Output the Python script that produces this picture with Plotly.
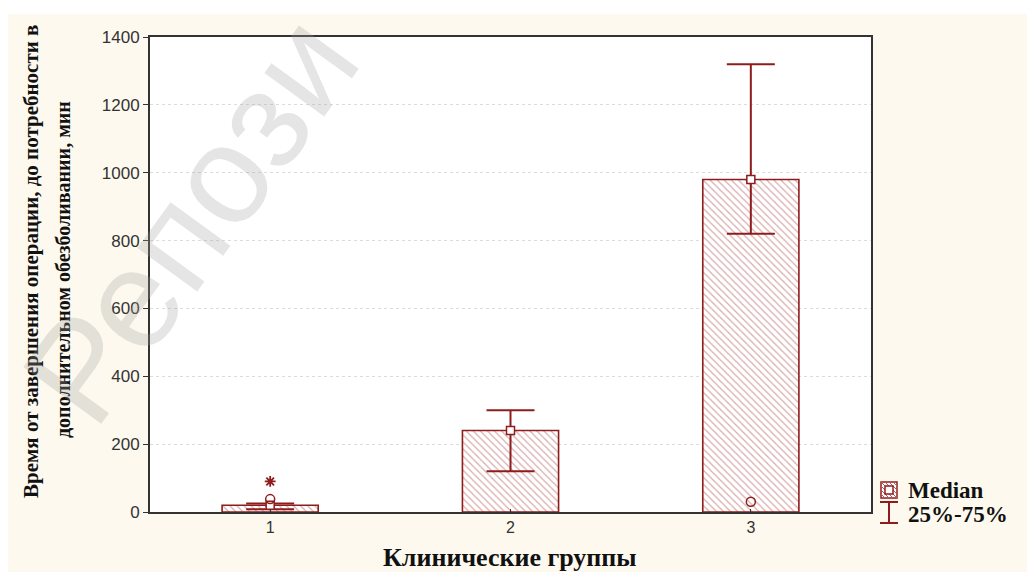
import plotly.graph_objects as go

# ---- data ----
groups = [1, 2, 3]
medians = [20, 240, 980]
q1 = [8, 120, 820]
q3 = [25, 300, 1320]
outlier_circle_x = [1, 3]
outlier_circle_y = [38, 30]
outlier_star_x = [1]
outlier_star_y = [90]
y_ticks = [0, 200, 400, 600, 800, 1000, 1200, 1400]

RED = "#8e1c1c"

# page has an 8px body margin: work in screen pixels, convert to figure
OFF = 8
W, H = 1035 - OFF, 572 - OFF
SL, SR, ST, SB = 150, 871, 37, 512  # plot area in screen pixels


def px(x):
    return (x - SL) / (SR - SL)


def py(y):
    return (SB - y) / (SB - ST)


fig = go.Figure()

fig.add_trace(go.Bar(
    x=groups, y=medians, width=0.4,
    marker=dict(color="white", line=dict(color=RED, width=1.6),
                pattern=dict(shape="\\", fgcolor="#b45a5a", bgcolor="white",
                             size=5, solidity=0.25)),
    showlegend=False, hoverinfo="skip"))

fig.add_trace(go.Scatter(
    x=groups, y=medians, mode="markers",
    marker=dict(symbol="square", size=8, color="white", line=dict(color=RED, width=1.5)),
    error_y=dict(type="data", symmetric=False,
                 array=[a - m for a, m in zip(q3, medians)],
                 arrayminus=[m - b for m, b in zip(medians, q1)],
                 color=RED, thickness=2, width=24),
    showlegend=False))

fig.add_trace(go.Scatter(
    x=outlier_circle_x, y=outlier_circle_y, mode="markers",
    marker=dict(symbol="circle-open", size=9, color=RED, line=dict(width=1.5)),
    showlegend=False))

fig.add_trace(go.Scatter(
    x=outlier_star_x, y=outlier_star_y, mode="markers",
    marker=dict(symbol="asterisk-open", size=9, color=RED, line=dict(width=1.8, color=RED)),
    showlegend=False))

shapes = []
# cream background
shapes.append(dict(type="rect", xref="paper", yref="paper", layer="below",
                   x0=px(8), x1=px(1040), y0=py(580), y1=py(14),
                   fillcolor="#fdf9ee", line=dict(width=0)))
shapes.append(dict(type="rect", xref="paper", yref="paper", layer="below",
                   x0=0, x1=1, y0=0, y1=1, fillcolor="white", line=dict(width=0)))

# legend icons
lx0, lx1, ly0, ly1 = 881, 897, 482, 498
shapes.append(dict(type="rect", xref="paper", yref="paper",
                   x0=px(lx0), x1=px(lx1), y0=py(ly1), y1=py(ly0),
                   fillcolor="white", line=dict(color=RED, width=1.5)))
for k in range(-12, 16, 4):
    xa, ya = lx0 + k, ly0
    xb, yb = lx0 + k + 16, ly1
    if xa < lx0:
        ya = ly0 + (lx0 - xa); xa = lx0
    if xb > lx1:
        yb = ly1 - (xb - lx1); xb = lx1
    if ya < yb:
        shapes.append(dict(type="line", xref="paper", yref="paper",
                           x0=px(xa), x1=px(xb), y0=py(ya), y1=py(yb),
                           line=dict(color="#b45a5a", width=1)))
shapes.append(dict(type="rect", xref="paper", yref="paper",
                   x0=px(885), x1=px(893), y0=py(494), y1=py(486),
                   fillcolor="white", line=dict(color=RED, width=1.5)))
# error bar icon
shapes.append(dict(type="line", xref="paper", yref="paper",
                   x0=px(889), x1=px(889), y0=py(502), y1=py(523),
                   line=dict(color=RED, width=2)))
for yy in (502, 523):
    shapes.append(dict(type="line", xref="paper", yref="paper",
                       x0=px(880), x1=px(898), y0=py(yy), y1=py(yy),
                       line=dict(color=RED, width=2)))

SERIF = "Liberation Serif"
annotations = [
    dict(text="<b>Время от завершения операции, до потребности в</b>", textangle=-90,
         xref="paper", yref="paper", x=px(31), y=py(262), showarrow=False,
         font=dict(family=SERIF, size=21, color="#111"),
         xanchor="center", yanchor="middle"),
    dict(text="<b>дополнительном обезболивании, мин</b>", textangle=-90,
         xref="paper", yref="paper", x=px(63), y=py(270), showarrow=False,
         font=dict(family=SERIF, size=20, color="#111"),
         xanchor="center", yanchor="middle"),
    dict(text="<b>Клинические группы</b>", xref="paper", yref="paper",
         x=px(510), y=py(557), showarrow=False,
         font=dict(family=SERIF, size=26, color="#111"),
         xanchor="center", yanchor="middle"),
    dict(text="<b>Median</b>", xref="paper", yref="paper",
         x=px(906), y=py(490), showarrow=False,
         font=dict(family=SERIF, size=23, color="#111"),
         xanchor="left", yanchor="middle"),
    dict(text="<b>25%-75%</b>", xref="paper", yref="paper",
         x=px(906), y=py(514), showarrow=False,
         font=dict(family=SERIF, size=23, color="#111"),
         xanchor="left", yanchor="middle"),
    dict(text="Репози", textangle=-54, xref="paper", yref="paper",
         x=px(190), y=py(218), showarrow=False,
         font=dict(family="Liberation Sans", size=140, color="rgba(160,160,160,0.28)"),
         xanchor="center", yanchor="middle"),
]

fig.update_layout(
    width=W, height=H,
    margin=dict(l=SL - OFF, r=(W + OFF) - SR, t=ST - OFF, b=(H + OFF) - SB),
    paper_bgcolor="white", plot_bgcolor="rgba(0,0,0,0)",
    shapes=shapes, annotations=annotations,
    font=dict(family="Liberation Sans", color="#333"),
    xaxis=dict(range=[0.5, 3.5], tickvals=groups, ticktext=[str(g) for g in groups],
               ticks="inside", ticklen=3, tickcolor="#333",
               showgrid=False, zeroline=False,
               showline=True, linecolor="#333", linewidth=2, mirror=True,
               tickfont=dict(size=16, color="#333")),
    yaxis=dict(range=[0, 1400], tickvals=y_ticks,
               ticks="outside", ticklen=5, tickcolor="#333",
               showgrid=True, gridcolor="#dcdcdc", griddash="dot", gridwidth=1,
               zeroline=False,
               showline=True, linecolor="#333", linewidth=2, mirror=True,
               tickfont=dict(size=17, color="#333")),
)

fig.write_html("out.html")
